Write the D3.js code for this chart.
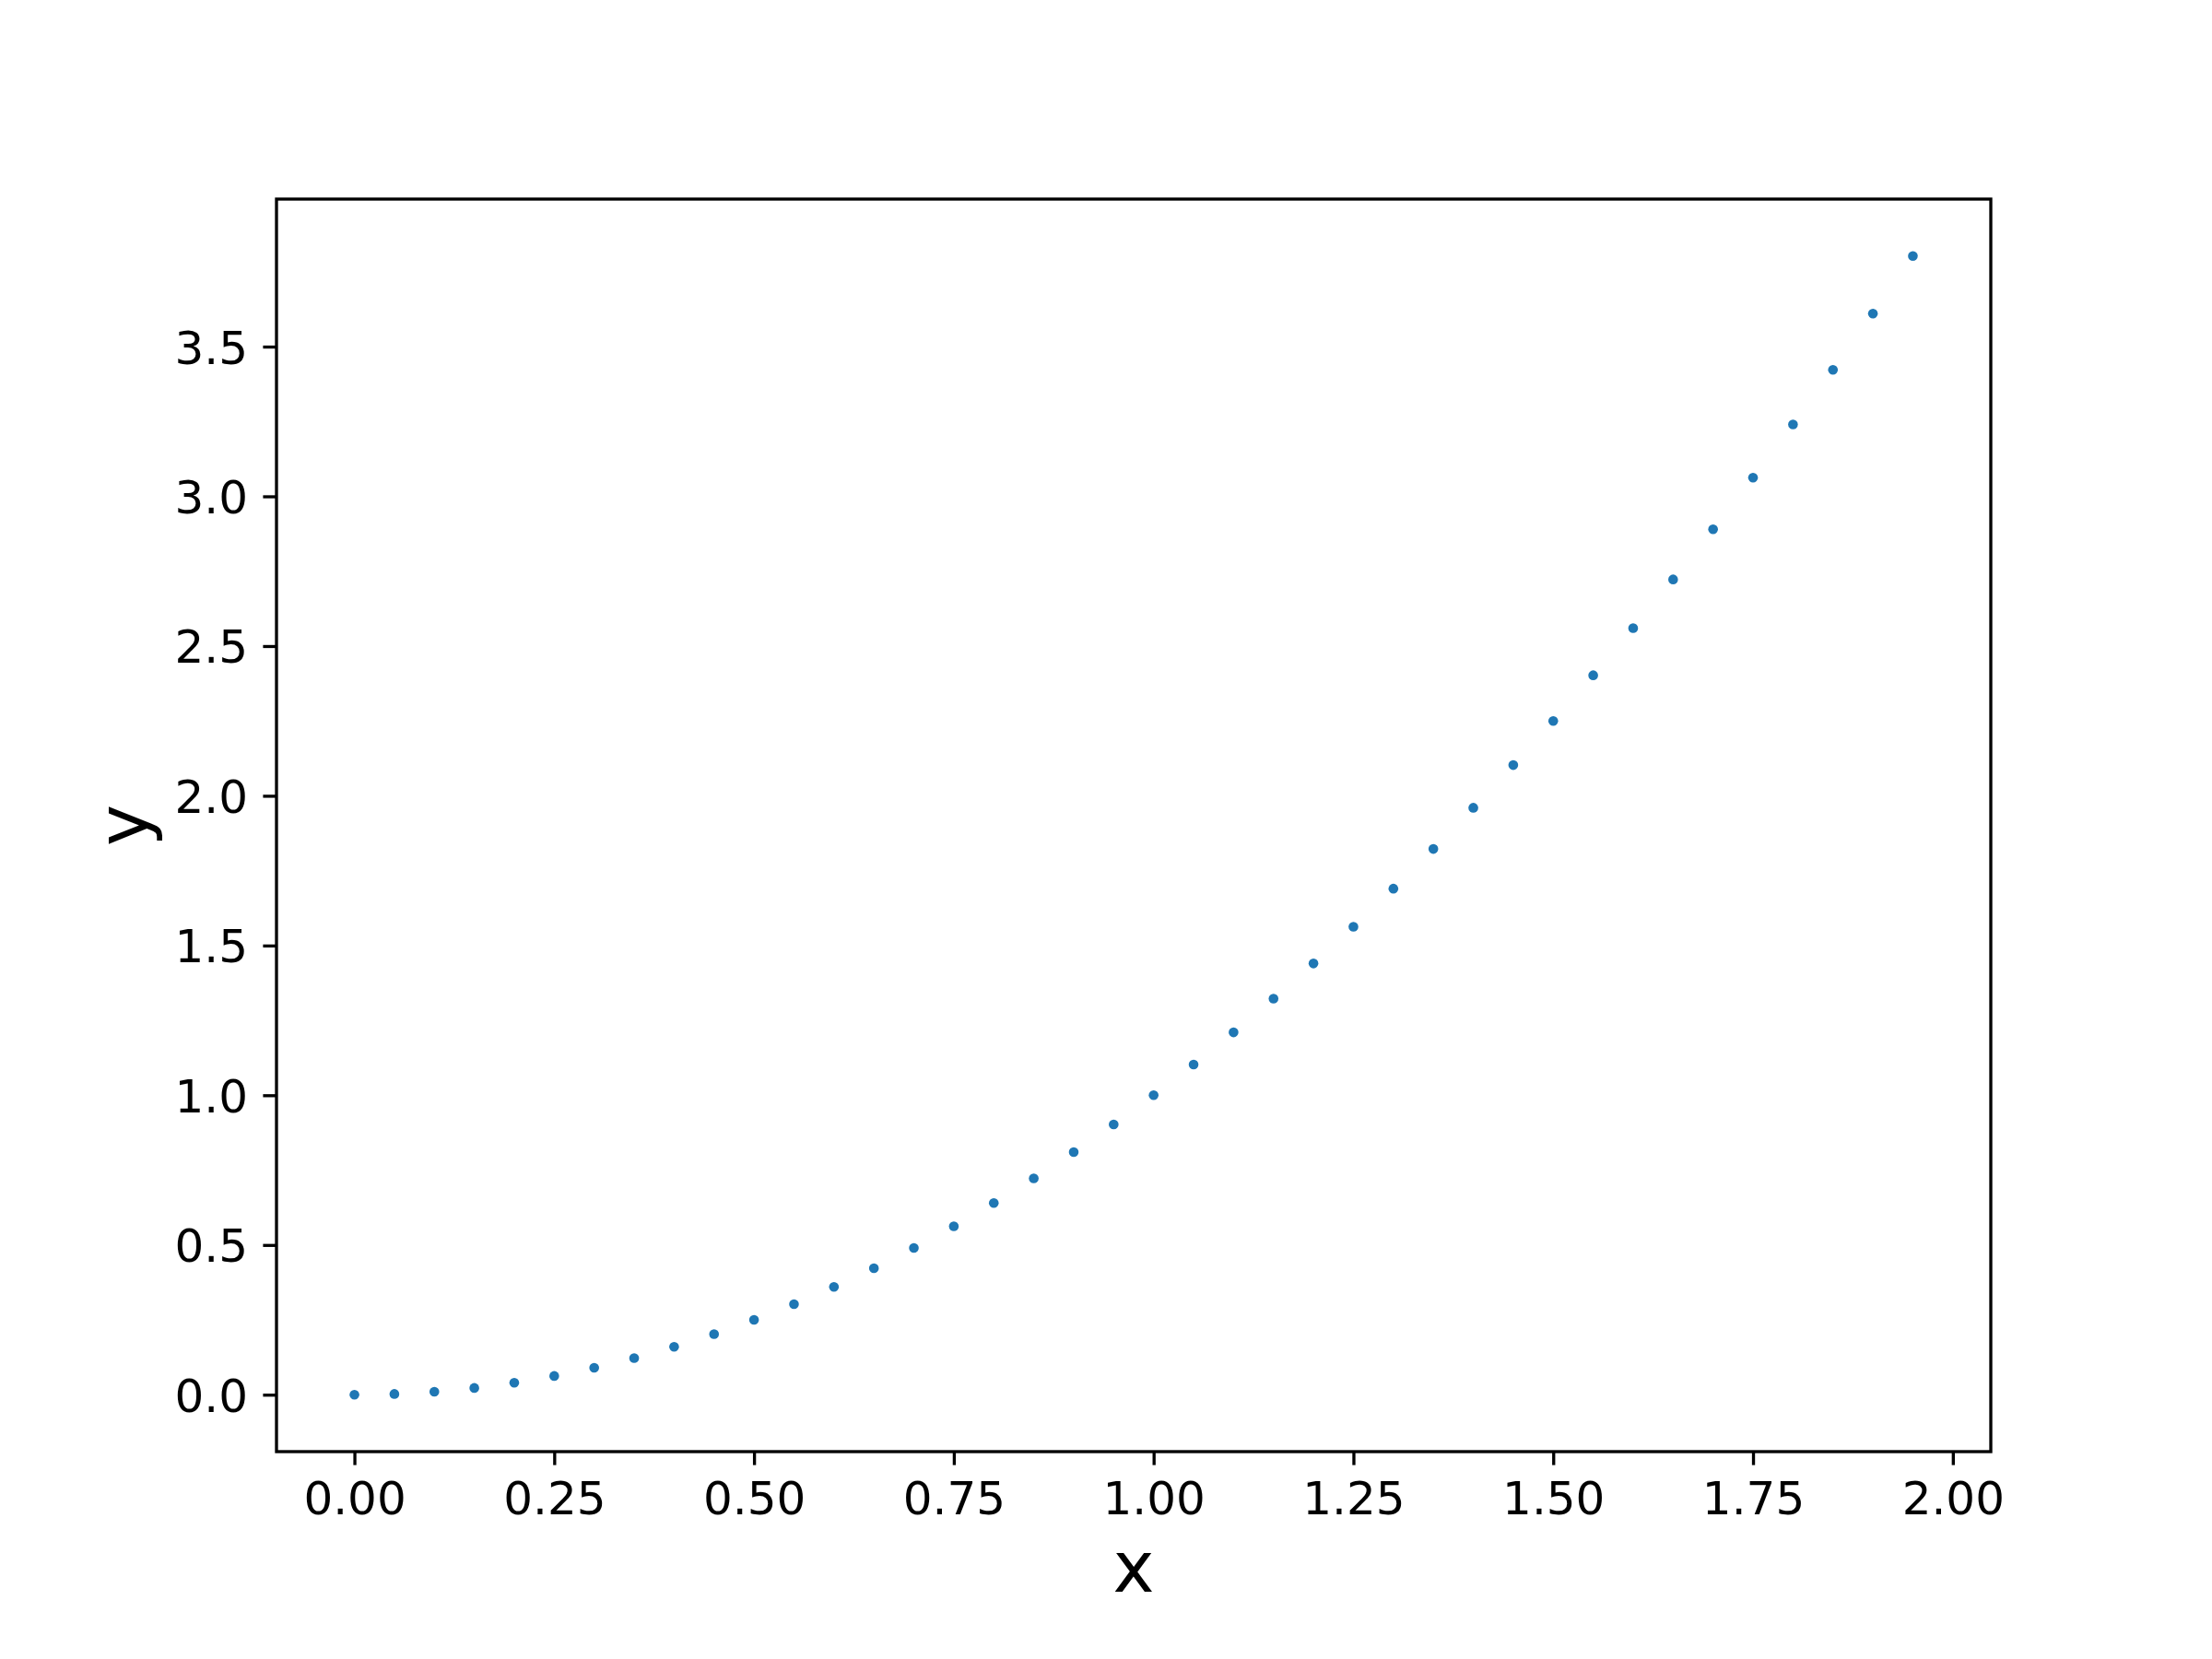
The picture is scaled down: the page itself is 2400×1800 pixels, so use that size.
<!DOCTYPE html>
<html>
<head>
<meta charset="utf-8">
<script src="https://cdn.jsdelivr.net/npm/d3@7"></script>
<style>
  html, body { margin: 0; padding: 0; background: #ffffff; }
  svg { display: block; font-family: "DejaVu Sans", sans-serif; }
</style>
</head>
<body>
<svg id="chart"></svg>
<script>
// data
const xValues = [0.00, 0.05, 0.10, 0.15, 0.20, 0.25, 0.30, 0.35, 0.40, 0.45,
                 0.50, 0.55, 0.60, 0.65, 0.70, 0.75, 0.80, 0.85, 0.90, 0.95,
                 1.00, 1.05, 1.10, 1.15, 1.20, 1.25, 1.30, 1.35, 1.40, 1.45,
                 1.50, 1.55, 1.60, 1.65, 1.70, 1.75, 1.80, 1.85, 1.90, 1.95];
const yValues = [0.0000, 0.0025, 0.0100, 0.0225, 0.0400, 0.0625, 0.0900, 0.1225, 0.1600, 0.2025,
                 0.2500, 0.3025, 0.3600, 0.4225, 0.4900, 0.5625, 0.6400, 0.7225, 0.8100, 0.9025,
                 1.0000, 1.1025, 1.2100, 1.3225, 1.4400, 1.5625, 1.6900, 1.8225, 1.9600, 2.1025,
                 2.2500, 2.4025, 2.5600, 2.7225, 2.8900, 3.0625, 3.2400, 3.4225, 3.6100, 3.8025];
const xTicks = [0.00, 0.25, 0.50, 0.75, 1.00, 1.25, 1.50, 1.75, 2.00];
const yTicks = [0.0, 0.5, 1.0, 1.5, 2.0, 2.5, 3.0, 3.5];

const WIDTH = 2400;
const HEIGHT = 1800;
const margin = { top: 216, right: 240, bottom: 225, left: 300 };
const plotW = WIDTH - margin.left - margin.right;
const plotH = HEIGHT - margin.top - margin.bottom;
const LW = 3.33;          // 0.8pt at 300 dpi
const TICK_LEN = 14.6;
const COLOR = '#1f77b4';
const FONT = '"DejaVu Sans", sans-serif';

// matplotlib style 5% margins around the data
const pad = (lo, hi) => { const m = (hi - lo) * 0.05; return [lo - m, hi + m]; };

const x = d3.scaleLinear().domain(pad(...d3.extent(xValues))).range([0, plotW]);
const y = d3.scaleLinear().domain(pad(...d3.extent(yValues))).range([plotH, 0]);

const svg = d3.select('#chart').attr('width', WIDTH).attr('height', HEIGHT);
const g = svg.append('g').attr('transform', `translate(${margin.left},${margin.top})`);

// points
g.append('g')
  .selectAll('circle')
  .data(xValues.map((v, i) => [v, yValues[i]]))
  .join('circle')
  .attr('cx', d => x(d[0]))
  .attr('cy', d => y(d[1]))
  .attr('r', 5.3)
  .attr('fill', COLOR);

// x axis
const xAxis = g.append('g')
  .attr('transform', `translate(0,${plotH})`)
  .call(d3.axisBottom(x).tickValues(xTicks).tickFormat(d3.format('.2f'))
    .tickSize(TICK_LEN).tickSizeOuter(0))
  .attr('font-family', FONT).attr('font-size', 50);
xAxis.select('.domain').remove();
xAxis.selectAll('line').attr('stroke', '#000').attr('stroke-width', LW);
xAxis.selectAll('text')
  .attr('y', 68).attr('dy', 0)
  .attr('fill', '#000');

// y axis
const yAxis = g.append('g')
  .call(d3.axisLeft(y).tickValues(yTicks).tickFormat(d3.format('.1f'))
    .tickSize(TICK_LEN).tickSizeOuter(0))
  .attr('font-family', FONT).attr('font-size', 50);
yAxis.select('.domain').remove();
yAxis.selectAll('line').attr('stroke', '#000').attr('stroke-width', LW);
yAxis.selectAll('text')
  .attr('x', -31).attr('dy', '0.36em')
  .attr('fill', '#000');

// frame (spines)
g.append('rect')
  .attr('width', plotW).attr('height', plotH)
  .attr('fill', 'none').attr('stroke', '#000').attr('stroke-width', LW);

// axis labels
g.append('text')
  .attr('x', plotW / 2).attr('y', plotH + 152)
  .attr('text-anchor', 'middle')
  .attr('font-family', FONT)
  .style('font-size', '76px')
  .text('x');

g.append('text')
  .attr('transform', `translate(${160 - margin.left},${plotH / 2}) rotate(-90)`)
  .attr('text-anchor', 'middle')
  .attr('font-family', FONT)
  .style('font-size', '76px')
  .text('y');
</script>
</body>
</html>
